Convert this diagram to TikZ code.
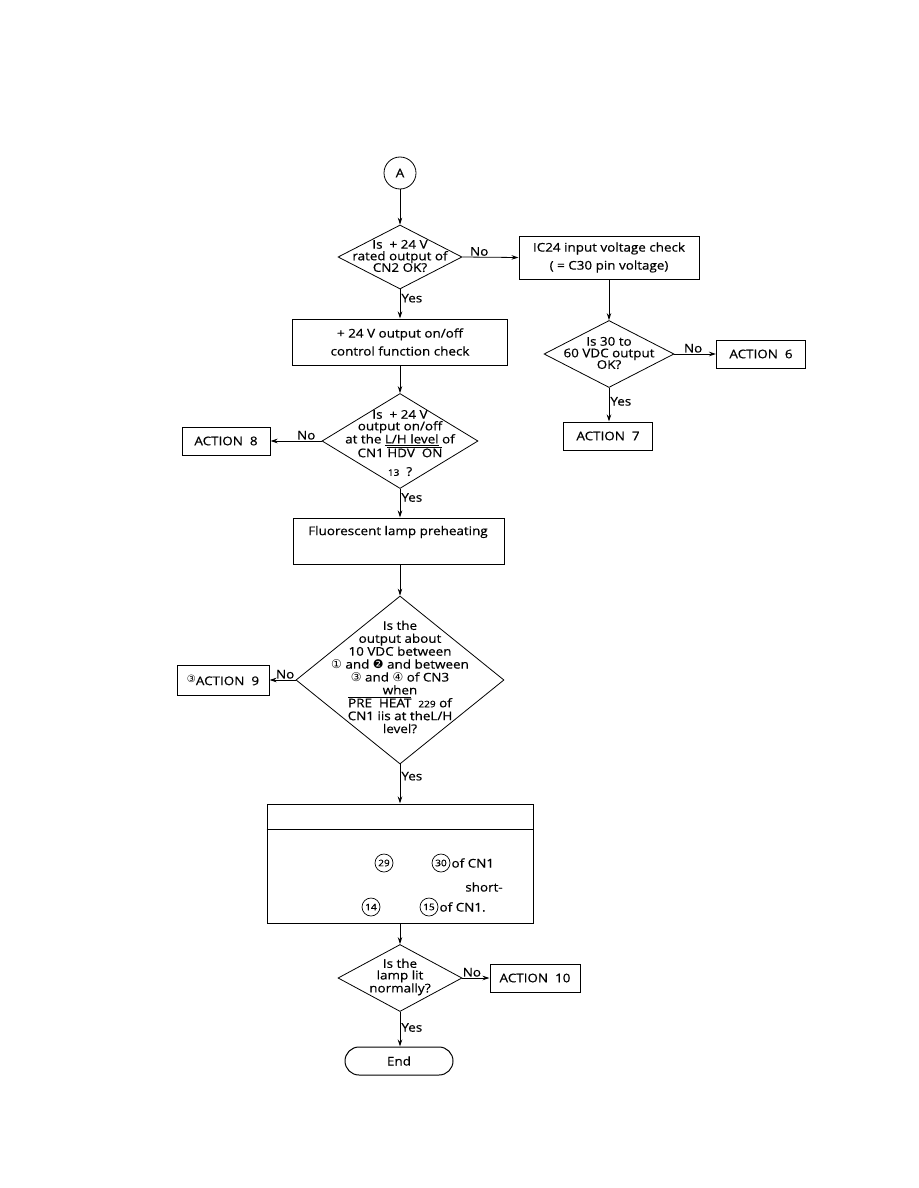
\documentclass[tikz,border=0pt]{standalone}
\usepackage{fontspec}
\setmainfont{Open Sans}[FakeStretch=1.12,FakeBold=0.5]
\newfontfamily\symfont{DejaVu Sans}
\usepackage{tikz}
\usetikzlibrary{calc,arrows.meta,positioning,shapes.geometric}

\tikzset{
  flow/.style={line width=0.8pt,-{Stealth[length=7pt,width=4.5pt]}},
  box/.style={draw,line width=1pt,align=center,inner sep=0pt},
  dia/.style={draw,diamond,line width=0.8pt,inner sep=0pt},
  qtext/.style={align=center,font=\fontsize{12}{11.6}\selectfont},
  lab/.style={inner sep=1pt,font=\fontsize{12}{12}\selectfont},
  pin/.style={draw,circle,line width=0.7pt,inner sep=0pt,minimum size=18pt,font=\fontsize{9}{9}\selectfont}
}

\begin{document}
\begin{tikzpicture}[x=1pt,y=-1pt,font=\fontsize{12}{18}\selectfont]
        \useasboundingbox (0,0) rectangle (918,1188);
        % start and first check
        \node[circle,draw,line width=0.8pt,minimum size=32pt,inner sep=0pt] (A) at (400,173) {A};
        \node[dia,minimum width=124pt,minimum height=64pt] (d1) at (400,257) {};
        \node[qtext] (d1t) at (400,256) {Is\ \ + 24 V\\rated output of\\CN2 OK?};
        \node[box,minimum width=180pt,minimum height=43pt] (b1) at (609,257.5) {IC24 input voltage check\\( = C30 pin voltage)};
        % right branch
        \node[dia,minimum width=130pt,minimum height=67pt] (d2) at (609,354) {};
        \node[qtext] (d2t) at (609,353) {Is 30 to\\60 VDC output\\OK?};
        \node[box,minimum width=89pt,minimum height=28pt] (a6) at (761,354) {ACTION\ \ 6};
        \node[box,minimum width=89pt,minimum height=28pt] (a7) at (608,436) {ACTION\ \ 7};
        % on/off control
        \node[box,minimum width=215pt,minimum height=46pt] (b2) at (400,342) {+ 24 V output on/off\\control function check};
        \node[dia,minimum width=156pt,minimum height=95pt] (d3) at (400,441) {};
        \node[qtext] (d3t) at (400,443) {Is\ \ + 24 V\\output on/off\\at the \underline{L/H level} of\\CN1 $\overline{\mbox{HDV\ \ ON}}$\\[7pt]{\fontsize{9}{9}\selectfont 13}\ \ ?};
        \node[box,minimum width=88pt,minimum height=28pt] (a8) at (226,441) {ACTION\ \ 8};
        % preheating
        \node[box,minimum width=211pt,minimum height=46pt] (b3) at (398.5,541) {};
        \node (b3t) at (398,532) {Fluorescent lamp preheating};
        \node[dia,minimum width=208pt,minimum height=168pt] (d4) at (400,680) {};
        \node[qtext,font=\fontsize{12}{12.9}\selectfont] (d4t) at (400,677) {Is the\\output about\\10 VDC between\\{\symfont ①} and {\symfont ❷} and between\\{\symfont ③} and {\symfont ④} of CN3\\when\\$\overline{\mbox{PRE\ \ HEAT}}$\ \ {\fontsize{9}{9}\selectfont 229} of\\CN1 iis at theL/H\\level?};
        \node[box,minimum width=92pt,minimum height=30pt] (a9) at (223,680) {\raisebox{3pt}{\symfont\fontsize{10}{10}\selectfont ③}ACTION\ \ 9};
        % short-circuit box
        \node[box,minimum width=266pt,minimum height=119pt] (b4) at (400,863.5) {};
        \draw[line width=1pt] ($(b4.north west)+(0,26)$) -- ($(b4.north east)+(0,26)$);
        \node[pin] (c29) at (384,863) {29};
        \node[pin] (c30) at (441,863) {30};
        \node[right=1pt of c30,inner sep=0pt] (t30) {of CN1};
        \node[inner sep=0pt] (tsh) at (484,887) {short-};
        \node[pin] (c14) at (371,907) {14};
        \node[pin] (c15) at (429,907) {15};
        \node[right=1pt of c15,inner sep=0pt] (t15) {of CN1.};
        % lamp check and end
        \node[dia,minimum width=124pt,minimum height=67pt] (d5) at (400,978) {};
        \node[qtext] (d5t) at (400,977) {Is the\\lamp lit\\normally?};
        \node[box,minimum width=90pt,minimum height=28pt] (a10) at (535,978) {ACTION\ \ 10};
        \node[draw,line width=1pt,rounded corners=14pt,minimum width=108pt,minimum height=28pt] (end) at (399,1061) {End};
        % connectors
        \draw[flow] (A) -- (d1);
        \draw[flow] (d1.east) -- node[lab,above,pos=0.3] {No} (b1.west);
        \draw[flow] (b1.south) -- (d2.north);
        \draw[flow] (d2.east) -- node[lab,above,pos=0.45] {No} (a6.west);
        \draw[flow] (d2.south) -- node[lab,right,pos=0.4] {Yes} (d2.south |- a7.north);
        \draw[flow] (d1.south) -- node[lab,right,pos=0.3] {Yes} (b2.north);
        \draw[flow] (b2.south) -- (d3.north);
        \draw[flow] (d3.west) -- node[lab,above,pos=0.3] {No} (a8.east);
        \draw[flow] (d3.south) -- node[lab,right,pos=0.3] {Yes} (d3.south |- b3.north);
        \draw[flow] (d4.north |- b3.south) -- (d4.north);
        \draw[flow] (d4.west) -- node[lab,above,pos=0.4] {No} (a9.east);
        \draw[flow] (d4.south) -- node[lab,right,pos=0.3] {Yes} (b4.north);
        \draw[flow] (b4.south) -- (d5.north);
        \draw[flow] (d5.east) -- node[lab,above,pos=0.35] {No} (a10.west);
        \draw[flow] (d5.south) -- node[lab,right,pos=0.45] {Yes} (d5.south |- end.north);
\end{tikzpicture}
\end{document}
